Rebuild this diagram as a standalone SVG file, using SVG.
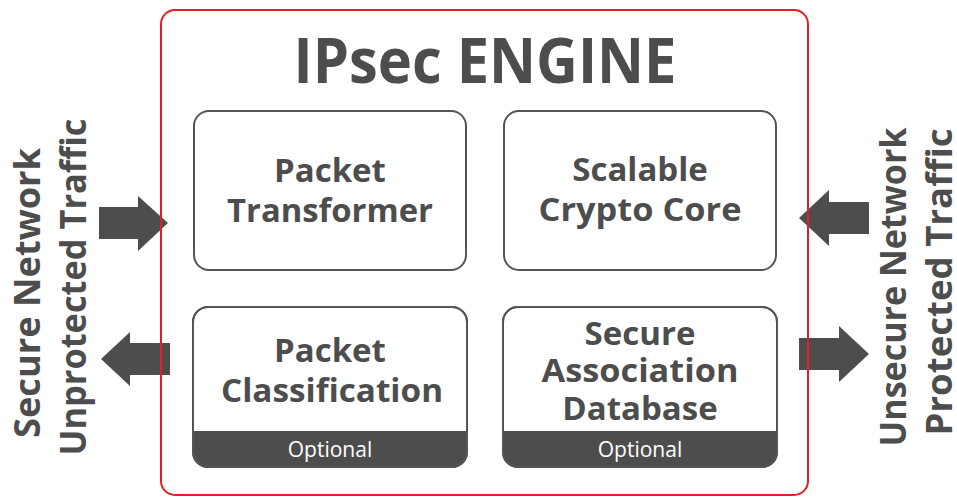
<svg xmlns="http://www.w3.org/2000/svg" width="957" height="499" viewBox="0 0 957 499">
<style>
.t{font-family:"Open Sans","Liberation Sans",sans-serif;font-weight:700;fill:#4d4d4d;text-anchor:middle}
.n{font-size:33px}
.side{font-size:36px}
.box{fill:#fff;stroke:#555;stroke-width:2}
.band{fill:#4d4d4d}
.opt{font-family:"Open Sans","Liberation Sans",sans-serif;font-size:21px;fill:#fff;text-anchor:middle}
.arrow{fill:#4d4d4d}
</style>
<rect width="957" height="499" fill="#fff"/>
<g id="connectors">
<polygon class="arrow" points="99,207 138,207 138,196 168,223 138,251 138,239 99,239"/>
<polygon class="arrow" points="101,359 130,332 130,343 170,343 170,375 130,375 130,386"/>
<polygon class="arrow" points="799,218 829,190 829,202 869,202 869,234 829,234 829,246"/>
<polygon class="arrow" points="799,338 839,338 839,326 869,354 839,382 839,370 799,370"/>
</g>
<g id="engine">
<rect x="161" y="10" width="647" height="485" rx="14" fill="none" stroke="#e31e24" stroke-width="2"/>
<text class="t" x="485" y="83" font-size="63" textLength="383" lengthAdjust="spacingAndGlyphs">IPsec ENGINE</text>
</g>
<g id="packet-transformer">
<rect class="box" x="194" y="111" width="272" height="159" rx="15"/>
<text class="t n" x="330" y="182">Packet</text>
<text class="t n" x="330" y="222" textLength="206" lengthAdjust="spacingAndGlyphs">Transformer</text>
</g>
<g id="crypto-core">
<rect class="box" x="504" y="111" width="272" height="159" rx="15"/>
<text class="t n" x="640" y="181">Scalable</text>
<text class="t n" x="640" y="221" textLength="203" lengthAdjust="spacingAndGlyphs">Crypto Core</text>
</g>
<g id="packet-classification">
<rect class="box" x="193" y="307" width="274" height="160" rx="15"/>
<path class="band" d="M193,431 H467 V452 A15,15 0 0 1 452,467 H208 A15,15 0 0 1 193,452 Z"/>
<rect x="193" y="307" width="274" height="160" rx="15" fill="none" stroke="#555" stroke-width="2"/>
<text class="t n" x="330" y="362">Packet</text>
<text class="t n" x="332" y="402" textLength="222" lengthAdjust="spacingAndGlyphs">Classification</text>
<text class="opt" x="330" y="457">Optional</text>
</g>
<g id="sa-database">
<rect class="box" x="503" y="307" width="274" height="160" rx="15"/>
<path class="band" d="M503,431 H777 V452 A15,15 0 0 1 762,467 H518 A15,15 0 0 1 503,452 Z"/>
<rect x="503" y="307" width="274" height="160" rx="15" fill="none" stroke="#555" stroke-width="2"/>
<text class="t n" x="640" y="345">Secure</text>
<text class="t n" x="640" y="382" textLength="197" lengthAdjust="spacingAndGlyphs">Association</text>
<text class="t n" x="640" y="420">Database</text>
<text class="opt" x="640" y="457">Optional</text>
</g>
<g id="secure-side">
<text class="t side" transform="translate(40,293) rotate(-90)" textLength="290" lengthAdjust="spacingAndGlyphs">Secure Network</text>
<text class="t side" transform="translate(86,287) rotate(-90)" textLength="337" lengthAdjust="spacingAndGlyphs">Unprotected Traffic</text>
</g>
<g id="unsecure-side">
<text class="t side" transform="translate(906,287) rotate(-90)" textLength="319" lengthAdjust="spacingAndGlyphs">Unsecure Network</text>
<text class="t side" transform="translate(952,282) rotate(-90)" textLength="307" lengthAdjust="spacingAndGlyphs">Protected Traffic</text>
</g>
</svg>
